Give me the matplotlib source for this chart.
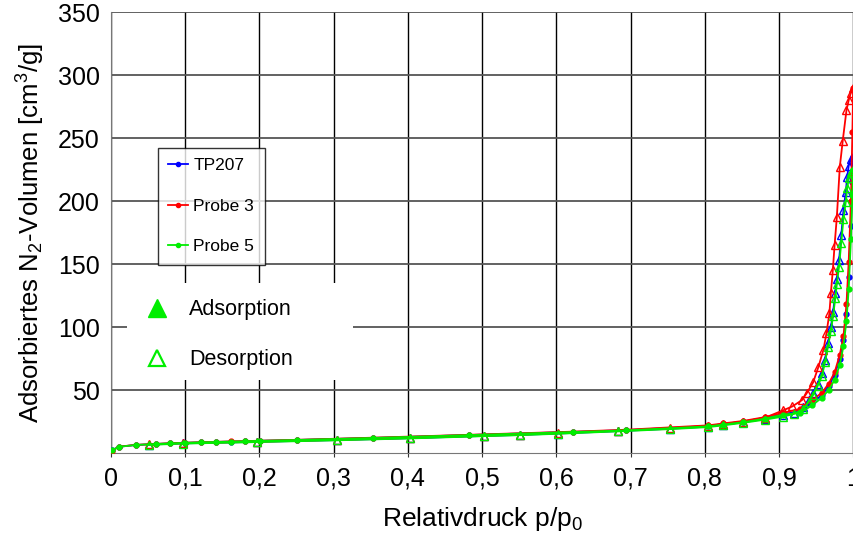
import matplotlib
matplotlib.use("Agg")
import matplotlib.pyplot as plt
from matplotlib.lines import Line2D
from matplotlib.patches import Rectangle

plt.rcParams["font.family"] = ["Liberation Sans", "DejaVu Sans"]
plt.rcParams["mathtext.default"] = "regular"

# Adsorption branch (p/p0, volume)
ads_p = [0.001, 0.011, 0.033, 0.061, 0.080, 0.100, 0.121, 0.141, 0.161, 0.181, 0.201,
         0.251, 0.353, 0.483, 0.623, 0.694, 0.805, 0.825, 0.852, 0.881, 0.906, 0.929,
         0.945, 0.958, 0.967, 0.975, 0.982, 0.987, 0.991, 0.994, 0.997, 0.999, 1.0]
ads_tp207 = [2.2, 5.0, 6.4, 7.2, 7.7, 8.1, 8.5, 8.8, 9.1, 9.4, 9.7, 10.4, 12.0, 14.3, 16.8,
             18.2, 21.5, 23.0, 25.0, 28.0, 31.0, 33.0, 40.0, 46.0, 53.0, 62.0, 75.0, 90.0,
             110.0, 140.0, 180.0, 215.0, 235.0]
ads_probe3 = [2.0, 5.1, 6.5, 7.3, 7.8, 8.2, 8.6, 8.9, 9.2, 9.5, 9.8, 10.5, 12.2, 14.5, 17.0,
              18.5, 22.0, 23.5, 25.5, 28.5, 32.0, 35.0, 42.0, 48.0, 55.0, 64.0, 78.0, 93.0,
              118.0, 152.0, 200.0, 255.0, 290.0]
ads_probe5 = [2.1, 5.0, 6.4, 7.2, 7.7, 8.1, 8.5, 8.8, 9.1, 9.4, 9.7, 10.4, 12.0, 14.3, 16.7,
              18.0, 21.2, 22.6, 24.5, 27.3, 30.5, 32.0, 38.0, 44.0, 50.0, 58.0, 70.0, 85.0,
              105.0, 130.0, 170.0, 205.0, 225.0]

# Desorption branch
des_p3 = [1.0, 0.997, 0.994, 0.991, 0.986, 0.982, 0.978, 0.975, 0.9726, 0.970, 0.968, 0.964,
          0.960, 0.953, 0.946, 0.938, 0.931, 0.918, 0.906, 0.881, 0.852, 0.825, 0.805, 0.753,
          0.683, 0.602, 0.551, 0.502, 0.403, 0.304, 0.197, 0.097, 0.051]
des_probe3 = [290, 286, 280, 272, 248, 227, 187, 165, 145, 127, 111, 95, 82, 68, 56, 48, 42,
              37, 34, 28, 25, 23, 21.5, 19.6, 17.7, 15.8, 14.6, 13.8, 12.0, 10.5, 9.0, 7.8, 6.8]
des_p = [1.0, 0.997, 0.994, 0.992, 0.990, 0.987, 0.984, 0.981, 0.978, 0.976, 0.973, 0.970,
         0.966, 0.962, 0.958, 0.952, 0.946, 0.940, 0.933, 0.920, 0.906, 0.881, 0.852, 0.825,
         0.805, 0.753, 0.683, 0.602, 0.551, 0.502, 0.403, 0.304, 0.197, 0.097, 0.051]
des_tp207 = [235, 233, 228, 219, 207, 193, 173, 153, 138, 127, 112, 100, 87, 74, 63.5, 55,
             47.6, 42, 36.5, 32, 30, 27, 24.5, 22.5, 21, 19.3, 17.4, 15.5, 14.4, 13.6, 11.8,
             10.3, 8.9, 7.7, 6.7]
des_probe5 = [225, 223, 218, 210, 199, 186, 167, 148, 134, 123, 109, 97, 84, 72, 61, 53, 46,
              40.5, 35, 31, 29, 26.5, 24, 22, 20.6, 19, 17.2, 15.3, 14.2, 13.4, 11.6, 10.1,
              8.7, 7.5, 6.5]

samples = ["TP207", "Probe 3", "Probe 5"]
colors = ["#0000ff", "#ff0000", "#00ee00"]
x_ticks = [0, 0.1, 0.2, 0.3, 0.4, 0.5, 0.6, 0.7, 0.8, 0.9, 1.0]
x_labels = ["0", "0,1", "0,2", "0,3", "0,4", "0,5", "0,6", "0,7", "0,8", "0,9", "1"]
y_ticks = [50, 100, 150, 200, 250, 300, 350]

fig = plt.figure(figsize=(8.54, 5.4), dpi=100)
ax = fig.add_axes([0.130, 0.161, 0.869, 0.8167])

ads = [ads_tp207, ads_probe3, ads_probe5]
des = [(des_p, des_tp207), (des_p3, des_probe3), (des_p, des_probe5)]
for name, col, a, (dp, dv) in zip(samples, colors, ads, des):
    ax.plot(ads_p, a, color=col, lw=1.3, marker="o", ms=3.5, zorder=3)
    ax.plot(dp, dv, color=col, lw=1.3, marker="^", ms=5.5, mfc="none", mew=1.0, zorder=3)

ax.set_xlim(0, 1.0)
ax.set_ylim(0, 350)
ax.set_xticks(x_ticks)
ax.set_xticklabels(x_labels)
ax.set_yticks(y_ticks)
ax.tick_params(axis="y", length=0, labelsize=18, pad=8)
ax.tick_params(axis="x", length=3, color="#333333", labelsize=18, pad=7)
ax.xaxis.grid(True, color="black", lw=1.0)
ax.yaxis.grid(True, color="#555555", lw=1.3)
ax.set_axisbelow(True)
for s in ["top", "right"]:
    ax.spines[s].set_visible(False)
ax.spines["left"].set_color("#777777")
ax.spines["bottom"].set_color("#777777")

ax.set_xlabel("Relativdruck p/p$_0$", fontsize=19, labelpad=10)
ax.set_ylabel("Adsorbiertes N$_2$-Volumen [cm$^3$/g]", fontsize=18.5, labelpad=8)

# Legend for the samples
h1 = [Line2D([], [], color=c, lw=1.3, marker="o", ms=3) for c in colors]
leg1 = ax.legend(h1, samples, loc="upper left", bbox_to_anchor=(0.063, 0.692),
                 borderaxespad=0, fontsize=12.5, frameon=True, fancybox=False,
                 edgecolor="black", handlelength=1.15, labelspacing=1.45,
                 handletextpad=0.3, borderpad=0.6)
leg1.get_frame().set_linewidth(1.0)
ax.add_artist(leg1)

# White box behind the adsorption / desorption key
ax.add_patch(Rectangle((0.0216, 0.1655), 0.3046, 0.22, transform=ax.transAxes,
                       facecolor="white", edgecolor="none", zorder=4))
h2 = [Line2D([], [], ls="none", marker="^", ms=12.5, color="#00ee00"),
      Line2D([], [], ls="none", marker="^", ms=11.5, mfc="white", mec="#00ee00", mew=1.6)]
leg2 = ax.legend(h2, ["Adsorption", "Desorption"], loc="upper left",
                 bbox_to_anchor=(0.047, 0.349), borderaxespad=0, borderpad=0,
                 fontsize=15.5, frameon=False, handlelength=1.0, labelspacing=1.36,
                 handletextpad=1.0)
leg2.set_zorder(5)

fig.savefig("out.png", dpi=100)
